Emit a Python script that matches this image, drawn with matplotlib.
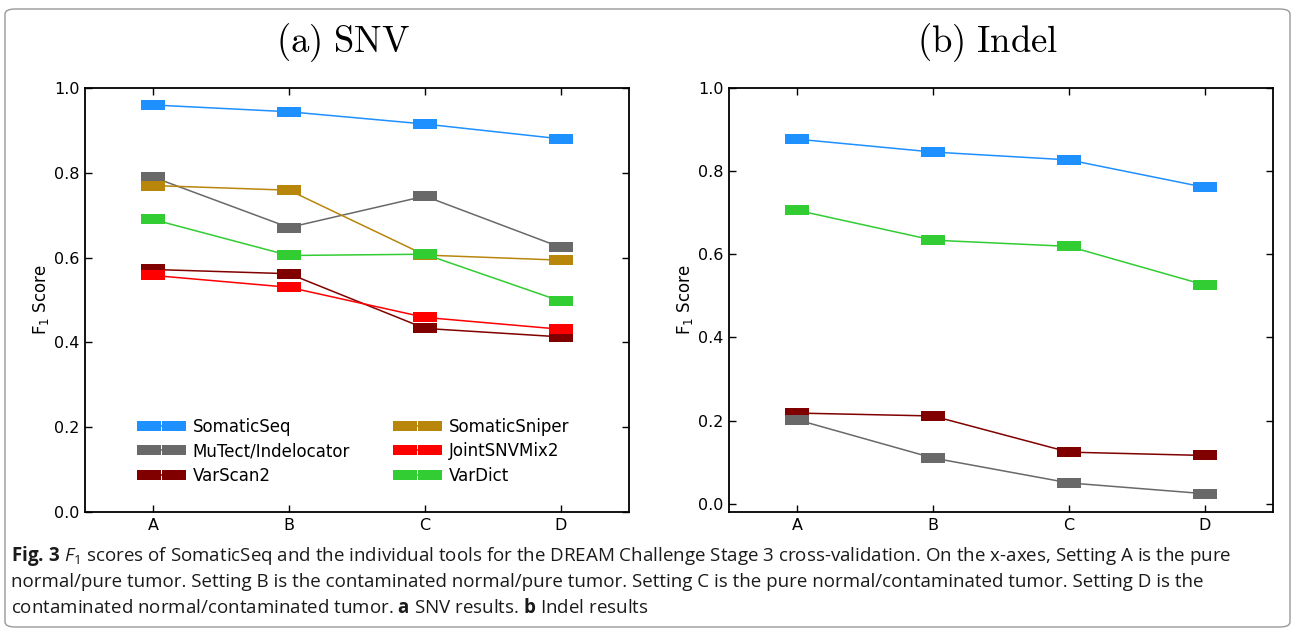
import numpy as np
import matplotlib
matplotlib.use("Agg")
import matplotlib.pyplot as plt
from matplotlib.path import Path
from matplotlib.patches import FancyBboxPatch

plt.rcParams['mathtext.fontset'] = 'custom'
plt.rcParams['mathtext.rm'] = 'Open Sans'
plt.rcParams['mathtext.it'] = 'Open Sans:italic'
plt.rcParams['mathtext.bf'] = 'Open Sans:bold'

settings = ['A', 'B', 'C', 'D']

# (a) SNV
snv_somaticseq = [0.960, 0.944, 0.915, 0.880]
snv_mutect = [0.790, 0.671, 0.745, 0.624]
snv_varscan2 = [0.572, 0.562, 0.433, 0.413]
snv_somaticsniper = [0.770, 0.759, 0.606, 0.594]
snv_jointsnvmix2 = [0.558, 0.530, 0.459, 0.431]
snv_vardict = [0.690, 0.605, 0.608, 0.497]

# (b) Indel
indel_somaticseq = [0.877, 0.846, 0.827, 0.761]
indel_vardict = [0.706, 0.634, 0.619, 0.526]
indel_varscan2 = [0.218, 0.211, 0.124, 0.116]
indel_mutect = [0.202, 0.110, 0.050, 0.024]

colors = {
    'SomaticSeq': '#1E90FF',
    'MuTect/Indelocator': '#696969',
    'VarScan2': '#800000',
    'SomaticSniper': '#B8860B',
    'JointSNVMix2': '#FF0000',
    'VarDict': '#32CD32',
}

rect = Path([(-1.2, -0.5), (1.2, -0.5), (1.2, 0.5), (-1.2, 0.5), (-1.2, -0.5)],
            [Path.MOVETO, Path.LINETO, Path.LINETO, Path.LINETO, Path.CLOSEPOLY])

fig = plt.figure(figsize=(12.95, 6.3), dpi=100)
ax1 = fig.add_axes([0.0656, 0.1873, 0.4201, 0.6730])
ax2 = fig.add_axes([0.5629, 0.1873, 0.4201, 0.6730])

x = np.arange(len(settings))


def draw(ax, name, vals):
    ax.plot(x, vals, color=colors[name], lw=1.1, marker=rect, ms=17,
            mew=0, label=name)


draw(ax1, 'SomaticSeq', snv_somaticseq)
draw(ax1, 'MuTect/Indelocator', snv_mutect)
draw(ax1, 'VarScan2', snv_varscan2)
draw(ax1, 'SomaticSniper', snv_somaticsniper)
draw(ax1, 'JointSNVMix2', snv_jointsnvmix2)
draw(ax1, 'VarDict', snv_vardict)

draw(ax2, 'SomaticSeq', indel_somaticseq)
draw(ax2, 'VarDict', indel_vardict)
draw(ax2, 'VarScan2', indel_varscan2)
draw(ax2, 'MuTect/Indelocator', indel_mutect)

for ax, ylo in [(ax1, 0.0), (ax2, -0.02)]:
    ax.set_xlim(-0.5, 3.5)
    ax.set_ylim(ylo, 1.0)
    ax.set_xticks(x)
    ax.set_xticklabels(settings)
    ax.set_yticks([0.0, 0.2, 0.4, 0.6, 0.8, 1.0])
    ax.tick_params(direction='in', top=True, right=True, length=5, width=1,
                   labelsize=11.5, pad=4)
    for s in ax.spines.values():
        s.set_linewidth(1.3)
    ax.set_ylabel('F$_1$ Score', fontsize=12, math_fontfamily='dejavusans',
                  labelpad=2)

ax1.legend(ncol=2, loc='lower left', bbox_to_anchor=(0.097, 0.048),
           borderaxespad=0, frameon=False, fontsize=12, numpoints=2,
           labelspacing=0.4, columnspacing=3.0, handlelength=2.1)

fig.text(343 / 1295, 1 - 43 / 630, r'$\mathrm{(a)\ SNV}$', ha='center',
         va='center', fontsize=26.4, math_fontfamily='cm')
fig.text(988 / 1295, 1 - 43 / 630, r'$\mathrm{(b)\ Indel}$', ha='center',
         va='center', fontsize=26.4, math_fontfamily='cm')

caption = [
    r'$\mathbf{Fig.\,3}$ $F_1$ scores of SomaticSeq and the individual tools for the DREAM Challenge Stage 3 cross-validation. On the x-axes, Setting A is the pure',
    'normal/pure tumor. Setting B is the contaminated normal/pure tumor. Setting C is the pure normal/contaminated tumor. Setting D is the',
    r'contaminated normal/contaminated tumor. $\mathbf{a}$ SNV results. $\mathbf{b}$ Indel results',
]
for i, line in enumerate(caption):
    fig.text(11 / 1295, 1 - (561 + 26 * i) / 630, line, ha='left',
             va='baseline', fontsize=13.5, family='Open Sans', color='#1a1a1a')

fig.patches.append(FancyBboxPatch((5 / 1295, 3 / 630), 1285 / 1295, 618 / 630,
                                  boxstyle='round,pad=0,rounding_size=0.008',
                                  transform=fig.transFigure, fill=False,
                                  edgecolor='#999999', lw=1))

fig.savefig('out.png', dpi=100)
